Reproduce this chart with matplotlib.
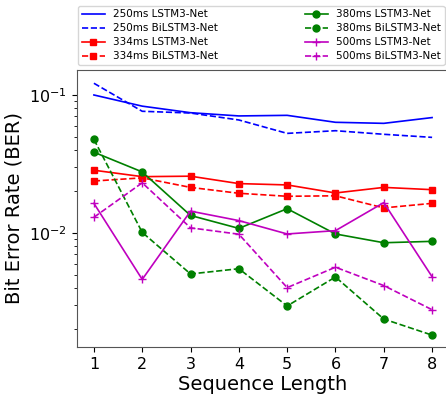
import numpy as np
from matplotlib import pyplot as plt

seq_len = [1, 2, 3, 4, 5, 6, 7, 8]

ber_250_lstm = [0.100, 0.083, 0.0744, 0.0705, 0.0712, 0.0634, 0.0623, 0.0686]
ber_250_bilstm = [0.1216, 0.0762, 0.074, 0.0659, 0.0527, 0.0551, 0.0519, 0.0493]
ber_334_lstm = [0.0285, 0.0256, 0.0258, 0.0228, 0.0223, 0.0195, 0.0214, 0.0206]
ber_334_bilstm = [0.0238, 0.0251, 0.0214, 0.0194, 0.01845, 0.0186, 0.0152, 0.0164]
ber_380_lstm = [0.0385, 0.0277, 0.0134, 0.0108, 0.0150, 0.00984, 0.0085, 0.0087]
ber_380_bilstm = [0.0477, 0.0101, 0.00505, 0.00551, 0.00296, 0.0048, 0.00238, 0.00182]
ber_500_lstm = [0.0164, 0.00461, 0.0144, 0.0123, 0.00984, 0.0104, 0.0166, 0.00482]
ber_500_bilstm = [0.0130, 0.0231, 0.0109, 0.0098, 0.00402, 0.00565, 0.00416, 0.00278]

W, H = 446, 396
fig = plt.figure(figsize=(W / 100, H / 100), dpi=100)
ax = fig.add_axes([77 / W, (H - 347) / H, (449 - 77) / W, (347 - 70) / H])

lw = 1.2
ax.plot(seq_len, ber_250_lstm, 'b-', lw=lw, label='250ms LSTM3-Net')
ax.plot(seq_len, ber_250_bilstm, 'b--', lw=lw, label='250ms BiLSTM3-Net')
ax.plot(seq_len, ber_334_lstm, 'rs-', lw=lw, ms=5, label='334ms LSTM3-Net')
ax.plot(seq_len, ber_334_bilstm, 'rs--', lw=lw, ms=5, label='334ms BiLSTM3-Net')
ax.plot(seq_len, ber_380_lstm, 'go-', lw=lw, ms=5, label='380ms LSTM3-Net')
ax.plot(seq_len, ber_380_bilstm, 'go--', lw=lw, ms=5, label='380ms BiLSTM3-Net')
ax.plot(seq_len, ber_500_lstm, 'm+-', lw=lw, ms=6, label='500ms LSTM3-Net')
ax.plot(seq_len, ber_500_bilstm, 'm+--', lw=lw, ms=6, label='500ms BiLSTM3-Net')

ax.set_yscale('log')
ax.set_xlim(0.65, 8.35)
ax.set_ylim(10 ** -2.826, 10 ** -0.819)
ax.set_xticks(seq_len)
ax.tick_params(labelsize=11.5)
ax.set_xlabel('Sequence Length', fontsize=14, labelpad=2)
ax.set_ylabel('Bit Error Rate (BER)', fontsize=14, labelpad=4)
for s in ax.spines.values():
    s.set_color('#555555')

ax.legend(ncol=2, fontsize=7.5, loc='lower left', bbox_to_anchor=(0.003, 1.018, 0.985, 0.2),
          mode='expand', borderaxespad=0, handlelength=2.2, labelspacing=0.38,
          borderpad=0.35)

plt.savefig('out.png', dpi=100)
